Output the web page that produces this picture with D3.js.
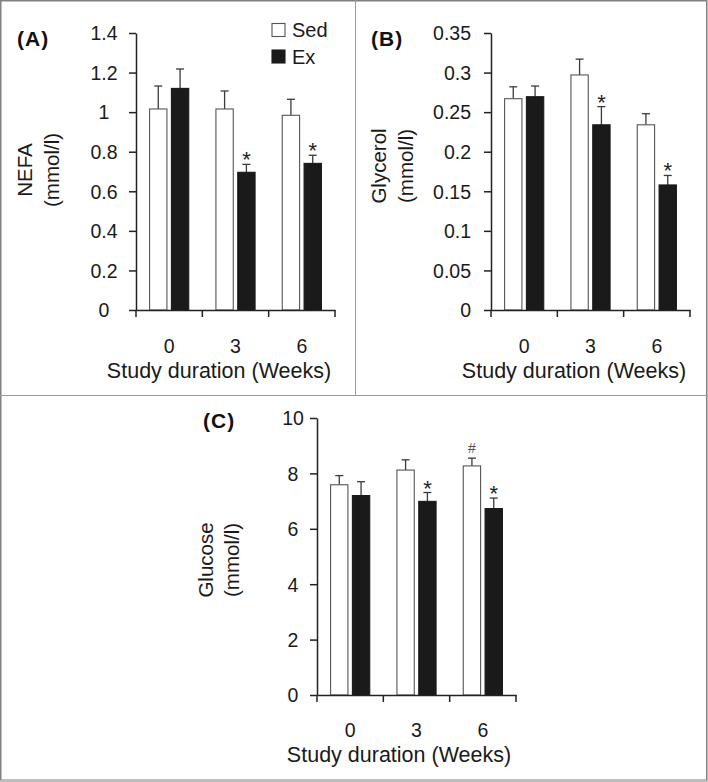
<!DOCTYPE html>
<html><head><meta charset="utf-8">
<script src="https://cdn.jsdelivr.net/npm/d3@7"></script>
<style>
html,body{margin:0;padding:0;background:#fff;}
svg{display:block;font-family:"Liberation Sans",Arial,Helvetica,sans-serif;}
</style></head>
<body>
<svg id="chart" width="708" height="782"></svg>
<script>
// ---- data ----
const categories = ["0", "3", "6"];
const series = ["Sed", "Ex"];

const nefaSed    = [1.016, 1.016, 0.984];
const nefaSedSem = [0.116, 0.091, 0.081];
const nefaEx     = [1.120, 0.696, 0.741];
const nefaExSem  = [0.098, 0.040, 0.041];
const nefaSedMarks = ["", "", ""];
const nefaExMarks  = ["", "*", "*"];
const nefaTicks = ["0", "0.2", "0.4", "0.6", "0.8", "1", "1.2", "1.4"];

const glySed    = [0.267, 0.297, 0.234];
const glySedSem = [0.015, 0.020, 0.014];
const glyEx     = [0.2695, 0.234, 0.158];
const glyExSem  = [0.0135, 0.023, 0.012];
const glySedMarks = ["", "", ""];
const glyExMarks  = ["", "*", "*"];
const glyTicks = ["0", "0.05", "0.1", "0.15", "0.2", "0.25", "0.3", "0.35"];

const gluSed    = [7.59, 8.12, 8.27];
const gluSedSem = [0.33, 0.37, 0.28];
const gluEx     = [7.20, 6.99, 6.73];
const gluExSem  = [0.50, 0.32, 0.38];
const gluSedMarks = ["", "", "#"];
const gluExMarks  = ["", "*", "*"];
const gluTicks = ["0", "2", "4", "6", "8", "10"];

const xTitle = "Study duration (Weeks)";

// ---- drawing ----
const svg = d3.select("#chart");

// frame lines
const frame = svg.append("g").attr("fill", "none");
frame.append("rect").attr("x", 0.75).attr("y", 0.75).attr("width", 706).attr("height", 779.5)
  .attr("stroke", "#808080").attr("stroke-width", 1.5);
frame.append("line").attr("x1", 0).attr("x2", 708).attr("y1", 781).attr("y2", 781)
  .attr("stroke", "#bdbdbd").attr("stroke-width", 2);
frame.append("line").attr("x1", 355.5).attr("x2", 355.5).attr("y1", 0).attr("y2", 395)
  .attr("stroke", "#9a9a9a").attr("stroke-width", 1);
frame.append("line").attr("x1", 0).attr("x2", 708).attr("y1", 395.5).attr("y2", 395.5)
  .attr("stroke", "#9a9a9a").attr("stroke-width", 1);

function panel(cfg) {
  const g = svg.append("g");
  const y = d3.scaleLinear().domain([0, +cfg.ticks[cfg.ticks.length - 1]]).range([cfg.y0, cfg.y1]);
  const x0 = d3.scaleBand().domain(categories).range([cfg.x0, cfg.x1]).paddingInner(0).paddingOuter(0);
  const x1 = d3.scaleBand().domain(series).range([0, x0.bandwidth()]).paddingInner(0.16).paddingOuter(0.6);

  const vals = {Sed: cfg.sed, Ex: cfg.ex};
  const sems = {Sed: cfg.sedSem, Ex: cfg.exSem};
  const marks = {Sed: cfg.sedMarks, Ex: cfg.exMarks};
  const rows = [];
  categories.forEach((c, i) => series.forEach(s => rows.push({c, s, v: vals[s][i], e: sems[s][i], m: marks[s][i]})));

  // error bars (upper only)
  const eb = g.append("g").attr("stroke", "#3a3a3a").attr("stroke-width", 1.3);
  rows.forEach(d => {
    const cx = x0(d.c) + x1(d.s) + x1.bandwidth() / 2;
    eb.append("line").attr("x1", cx).attr("x2", cx).attr("y1", y(d.v)).attr("y2", y(d.v + d.e));
    eb.append("line").attr("x1", cx - 4).attr("x2", cx + 4).attr("y1", y(d.v + d.e)).attr("y2", y(d.v + d.e));
  });

  // bars
  g.append("g").selectAll("rect").data(rows).join("rect")
    .attr("x", d => x0(d.c) + x1(d.s) + 0.5)
    .attr("y", d => y(d.v))
    .attr("width", x1.bandwidth() - 1)
    .attr("height", d => y(0) - y(d.v))
    .attr("fill", d => d.s === "Sed" ? "#ffffff" : "#1a1a1a")
    .attr("stroke", d => d.s === "Sed" ? "#555" : "#1a1a1a")
    .attr("stroke-width", 1.1);

  // significance marks
  g.append("g").selectAll("text").data(rows.filter(d => d.m)).join("text")
    .attr("x", d => x0(d.c) + x1(d.s) + x1.bandwidth() / 2)
    .attr("y", d => d.m === "#" ? y(d.v + d.e) - 5 : y(d.v + d.e) + 3)
    .attr("text-anchor", "middle")
    .attr("font-size", d => d.m === "#" ? 14 : 22)
    .attr("fill", d => d.m === "#" ? "#555" : "#222")
    .text(d => d.m);

  // y axis
  const ya = g.append("g").attr("transform", `translate(${cfg.x0},0)`)
    .call(d3.axisLeft(y).tickValues(cfg.ticks.map(Number)).tickFormat((v, i) => cfg.ticks[i]).tickSize(7).tickSizeOuter(0));
  ya.select(".domain").attr("stroke", "#222").attr("stroke-width", 1.5);
  ya.selectAll(".tick line").attr("stroke", "#222").attr("stroke-width", 1.5);
  ya.selectAll(".tick text").attr("font-size", 19.5).attr("fill", "#1a1a1a")
    .attr("font-family", null).attr("text-anchor", cfg.labelAnchor).attr("x", -cfg.labelOff).attr("dy", "0.35em");

  // x axis
  const xa = g.append("g").attr("transform", `translate(0,${cfg.y0})`)
    .call(d3.axisBottom(x0).tickSize(0).tickSizeOuter(0).tickPadding(0));
  xa.select(".domain").attr("stroke", "#222").attr("stroke-width", 1.5);
  xa.selectAll(".tick text").attr("font-size", 19.5).attr("fill", "#1a1a1a")
    .attr("font-family", null).attr("y", cfg.catY - cfg.y0).attr("dy", 0);
  const bounds = [x0.range()[0]].concat(categories.map(c => x0(c) + x0.bandwidth()));
  xa.selectAll(".bnd").data(bounds).join("line").attr("class", "bnd")
    .attr("x1", d => d).attr("x2", d => d).attr("y1", 0).attr("y2", 7)
    .attr("stroke", "#222").attr("stroke-width", 1.5);

  // titles
  g.append("text").attr("x", cfg.xtX).attr("y", cfg.xtY).attr("text-anchor", "middle")
    .attr("font-size", 21.5).attr("fill", "#1a1a1a").text(xTitle);
  cfg.ytitle.forEach((t, i) => {
    g.append("text").attr("transform", `translate(${cfg.ytX[i]},${cfg.ytCy}) rotate(-90)`)
      .attr("text-anchor", "middle").attr("font-size", 20.5).attr("fill", "#1a1a1a").text(t);
  });
  g.append("text").attr("x", cfg.lblX).attr("y", cfg.lblY).attr("font-size", 21)
    .attr("font-weight", "bold").attr("letter-spacing", 1).attr("fill", "#111").text(cfg.label);
  return {x0, x1, y};
}

panel({x0: 136, x1: 335, y0: 310, y1: 33, ticks: nefaTicks, labelOff: 32, labelAnchor: "middle",
  sed: nefaSed, sedSem: nefaSedSem, ex: nefaEx, exSem: nefaExSem, sedMarks: nefaSedMarks, exMarks: nefaExMarks,
  catY: 353, xtX: 219, xtY: 378, ytitle: ["NEFA", "(mmol/l)"], ytX: [32, 59], ytCy: 170,
  label: "(A)", lblX: 17, lblY: 46});

panel({x0: 491, x1: 690, y0: 310, y1: 33, ticks: glyTicks, labelOff: 20, labelAnchor: "end",
  sed: glySed, sedSem: glySedSem, ex: glyEx, exSem: glyExSem, sedMarks: glySedMarks, exMarks: glyExMarks,
  catY: 353, xtX: 574, xtY: 378, ytitle: ["Glycerol", "(mmol/l)"], ytX: [386, 413], ytCy: 166,
  label: "(B)", lblX: 371, lblY: 46});

panel({x0: 317, x1: 516, y0: 695, y1: 418, ticks: gluTicks, labelOff: 24, labelAnchor: "middle",
  sed: gluSed, sedSem: gluSedSem, ex: gluEx, exSem: gluExSem, sedMarks: gluSedMarks, exMarks: gluExMarks,
  catY: 737, xtX: 399, xtY: 762, ytitle: ["Glucose", "(mmol/l)"], ytX: [213, 239], ytCy: 560,
  label: "(C)", lblX: 203, lblY: 428});

// legend
const legend = svg.append("g");
series.forEach((s, i) => {
  const ly = 23.5 + i * 26.5;
  legend.append("rect").attr("x", 272).attr("y", ly).attr("width", 13).attr("height", 13)
    .attr("fill", s === "Sed" ? "#fff" : "#1a1a1a").attr("stroke", s === "Sed" ? "#555" : "#1a1a1a").attr("stroke-width", 1.1);
  legend.append("text").attr("x", 292).attr("y", ly + 13.5).attr("font-size", 20).attr("fill", "#1a1a1a").text(s);
});
</script>
</body></html>
